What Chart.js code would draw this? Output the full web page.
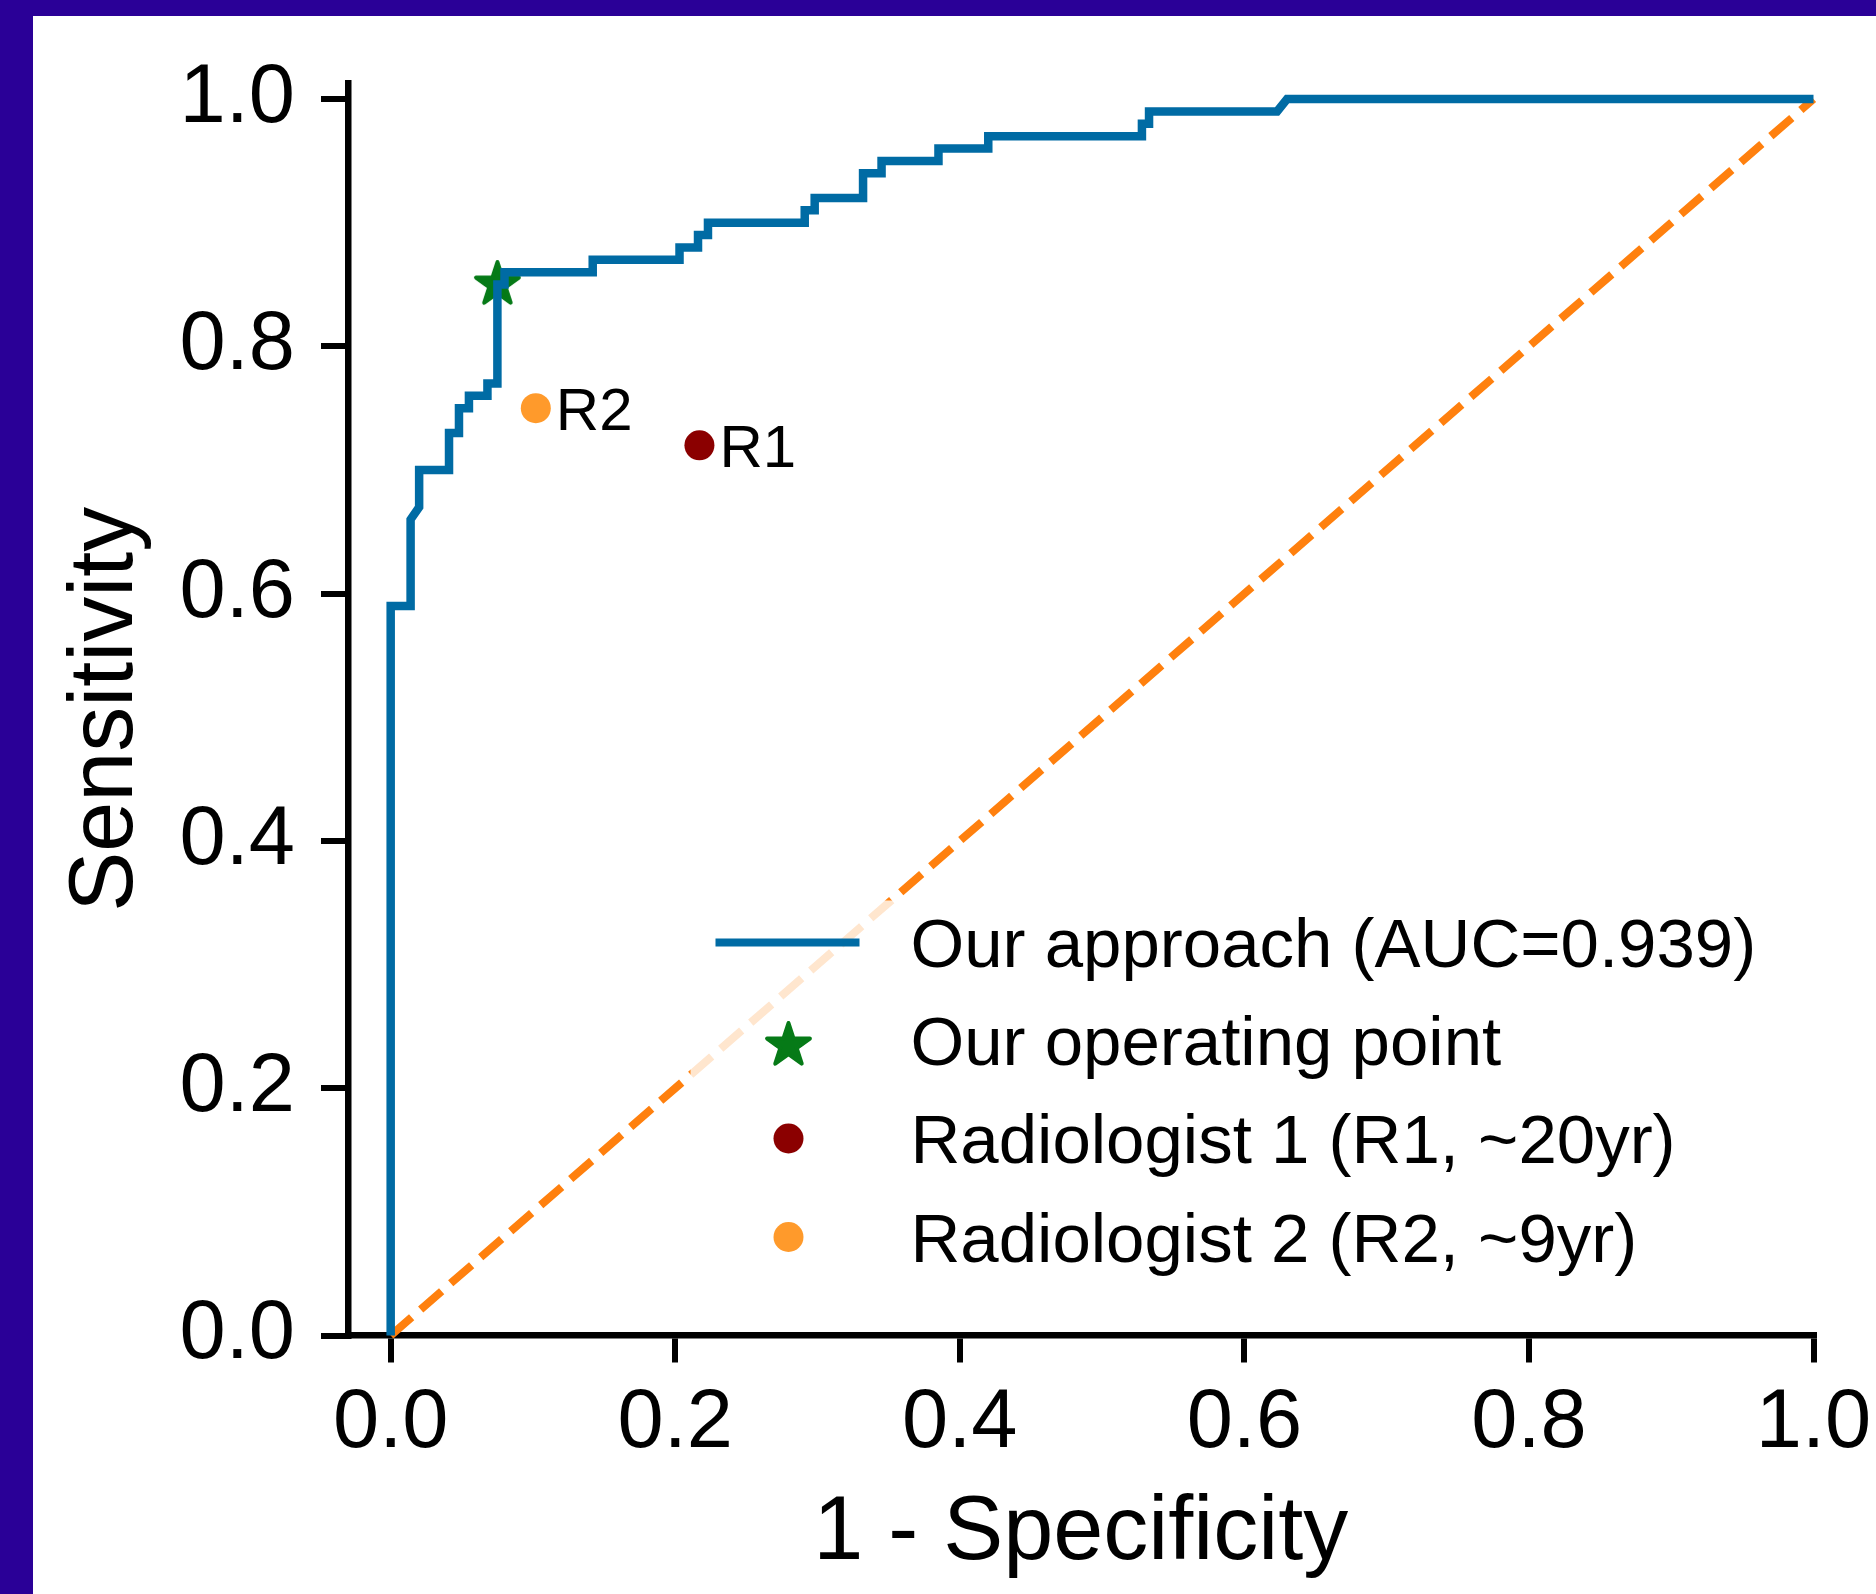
<!DOCTYPE html>
<html><head><meta charset="utf-8">
<script src="https://cdn.jsdelivr.net/npm/chart.js@4.4.1/dist/chart.umd.min.js"></script>
<style>
html,body{margin:0;padding:0;background:#2a0097;width:1876px;height:1594px;overflow:hidden;}
#wrap{position:absolute;left:33px;top:16px;width:1843px;height:1578px;background:#fff;}
canvas{display:block;}
</style></head><body>
<div id="wrap"><canvas id="c" width="1843" height="1578"></canvas></div>
<script>
// ROC curve (1 - specificity, sensitivity)
const rocFpr = [0, 0, 0.014, 0.014, 0.020, 0.020, 0.041, 0.041, 0.048, 0.048, 0.055, 0.055, 0.068, 0.068, 0.075, 0.075, 0.080, 0.080, 0.142, 0.142, 0.203, 0.203, 0.216, 0.216, 0.223, 0.223, 0.291, 0.291, 0.298, 0.298, 0.332, 0.332, 0.345, 0.345, 0.385, 0.385, 0.420, 0.420, 0.528, 0.528, 0.533, 0.533, 0.623, 0.630, 1.0];
const rocTpr = [0, 0.59, 0.59, 0.66, 0.67, 0.70, 0.70, 0.73, 0.73, 0.75, 0.75, 0.76, 0.76, 0.77, 0.77, 0.85, 0.85, 0.86, 0.86, 0.87, 0.87, 0.88, 0.88, 0.89, 0.89, 0.90, 0.90, 0.91, 0.91, 0.92, 0.92, 0.94, 0.94, 0.95, 0.95, 0.96, 0.96, 0.97, 0.97, 0.98, 0.98, 0.99, 0.99, 1.0, 1.0];
const chanceFpr = [0, 1];
const chanceTpr = [0, 1];
const opFpr = [0.075];
const opTpr = [0.85];
const r1Fpr = [0.217];
const r1Tpr = [0.72];
const r2Fpr = [0.102];
const r2Tpr = [0.75];
const xTicks = [0, 0.2, 0.4, 0.6, 0.8, 1.0];
const yTicks = [0, 0.2, 0.4, 0.6, 0.8, 1.0];
const legendLabels = ['Our approach (AUC=0.939)', 'Our operating point', 'Radiologist 1 (R1, ~20yr)', 'Radiologist 2 (R2, ~9yr)'];
const pointLabels = ['R1', 'R2'];

const FONT = '"Liberation Sans", Arial, Helvetica, sans-serif';
const C_BLUE = '#006BA4', C_ORANGE = '#FF800E', C_GREEN = '#067a17', C_R1 = '#8b0000', C_R2 = '#ff9a2b';

function toXY(xs, ys) { return xs.map((v, i) => ({x: v, y: ys[i]})); }

function makeStar(R, color) {
  const s = Math.ceil(2 * R + 12);
  const c = document.createElement('canvas');
  c.width = s; c.height = s;
  const g = c.getContext('2d');
  const cx = s / 2, cy = s / 2, r = R * 0.381966;
  g.beginPath();
  for (let i = 0; i < 10; i++) {
    const a = -Math.PI / 2 + i * Math.PI / 5;
    const rr = (i % 2) ? r : R;
    g.lineTo(cx + rr * Math.cos(a), cy + rr * Math.sin(a));
  }
  g.closePath();
  g.fillStyle = color; g.fill();
  g.lineJoin = 'round'; g.lineWidth = 4; g.strokeStyle = color; g.stroke();
  return c;
}
const starImg = makeStar(22.5, C_GREEN);

function noPad(scale) {
  scale.paddingTop = 0; scale.paddingBottom = 0; scale.paddingLeft = 0; scale.paddingRight = 0;
}

const overlay = {
  id: 'overlay',
  afterDatasetsDraw(chart) {
    const {ctx, chartArea, scales: {x, y}} = chart;
    ctx.save();
    // point annotations
    ctx.font = '60px ' + FONT;
    ctx.fillStyle = '#000';
    ctx.textAlign = 'left';
    ctx.textBaseline = 'alphabetic';
    const ann = [[r1Fpr[0], r1Tpr[0], pointLabels[0]], [r2Fpr[0], r2Tpr[0], pointLabels[1]]];
    ann.forEach(([vx, vy, t]) => {
      ctx.fillText(t, x.getPixelForValue(vx) + 20, y.getPixelForValue(vy) + 21.5);
    });
    // legend
    const W = 1090, H = 402;
    const right = chartArea.right - 33, bottom = chartArea.bottom - 33;
    const left = right - W, top = bottom - H;
    ctx.fillStyle = 'rgba(255,255,255,0.8)';
    ctx.fillRect(left, top, W, H);
    const rows = [42, 140, 238, 336.5];
    const mx = left + 98;
    // line handle
    ctx.strokeStyle = C_BLUE; ctx.lineWidth = 8; ctx.lineCap = 'butt';
    ctx.beginPath(); ctx.moveTo(left + 25, top + rows[0]); ctx.lineTo(left + 169, top + rows[0]); ctx.stroke();
    // star
    ctx.drawImage(starImg, mx - starImg.width / 2, top + rows[1] + 5 - starImg.height / 2);
    // dots
    ctx.fillStyle = C_R1; ctx.beginPath(); ctx.arc(mx, top + rows[2], 15, 0, Math.PI * 2); ctx.fill();
    ctx.fillStyle = C_R2; ctx.beginPath(); ctx.arc(mx, top + rows[3], 15, 0, Math.PI * 2); ctx.fill();
    // texts
    ctx.font = '69px ' + FONT;
    ctx.fillStyle = '#000';
    legendLabels.forEach((t, i) => ctx.fillText(t, left + 220, top + rows[i] + 24.5));
    ctx.restore();
  }
};

const tickFont = {family: FONT, size: 83};
const titleFont = {family: FONT, size: 90};
const gridOpts = {display: true, drawOnChartArea: false, drawTicks: true, tickLength: 27, tickWidth: 6, lineWidth: 6, tickColor: '#000', color: '#000'};

new Chart(document.getElementById('c'), {
  type: 'scatter',
  data: {
    datasets: [
      {label: legendLabels[0], data: toXY(rocFpr, rocTpr), showLine: true, borderColor: C_BLUE, borderWidth: 8.5, pointRadius: 0, pointHoverRadius: 0, fill: false, tension: 0, order: 1, borderJoinStyle: 'miter', borderCapStyle: 'butt', clip: false},
      {label: 'chance', data: toXY(chanceFpr, chanceTpr), showLine: true, borderColor: C_ORANGE, borderWidth: 8, borderDash: [27.75, 12], borderCapStyle: 'butt', pointRadius: 0, pointHoverRadius: 0, fill: false, order: 3, clip: false},
      {label: legendLabels[1], data: toXY(opFpr, opTpr), showLine: false, pointStyle: starImg, pointRadius: 24, backgroundColor: C_GREEN, order: 2, clip: false},
      {label: legendLabels[2], data: toXY(r1Fpr, r1Tpr), showLine: false, pointRadius: 15, pointHoverRadius: 15, backgroundColor: C_R1, borderWidth: 0, order: 0, clip: false},
      {label: legendLabels[3], data: toXY(r2Fpr, r2Tpr), showLine: false, pointRadius: 15, pointHoverRadius: 15, backgroundColor: C_R2, borderWidth: 0, order: 0, clip: false}
    ]
  },
  options: {
    responsive: false,
    animation: false,
    devicePixelRatio: 1,
    events: [],
    layout: {padding: {top: 67, right: 62.5, bottom: 0, left: 0}},
    plugins: {legend: {display: false}, tooltip: {enabled: false}},
    scales: {
      x: {
        type: 'linear', position: 'bottom', min: -0.03, max: 1.0,
        afterBuildTicks: s => { s.ticks = xTicks.map(v => ({value: v})); },
        afterFit: s => { s.height = 258.5; noPad(s); },
        ticks: {font: tickFont, color: '#000', padding: 12, autoSkip: false, maxRotation: 0, callback: v => Number(v).toFixed(1)},
        grid: gridOpts,
        border: {display: true, width: 6.5, color: '#000'},
        title: {display: true, text: '1 - Specificity', font: titleFont, color: '#000', padding: {top: 0, bottom: 6}}
      },
      y: {
        type: 'linear', position: 'left', min: 0, max: 1.013,
        afterBuildTicks: s => { s.ticks = yTicks.map(v => ({value: v})); },
        afterFit: s => { s.width = 315; noPad(s); },
        ticks: {font: tickFont, color: '#000', padding: 26, autoSkip: false, callback: v => Number(v).toFixed(1)},
        grid: gridOpts,
        border: {display: true, width: 6.5, color: '#000'},
        title: {display: true, text: 'Sensitivity', font: titleFont, color: '#000', padding: {top: 20, bottom: 0}}
      }
    }
  },
  plugins: [overlay]
});
</script>
</body></html>
